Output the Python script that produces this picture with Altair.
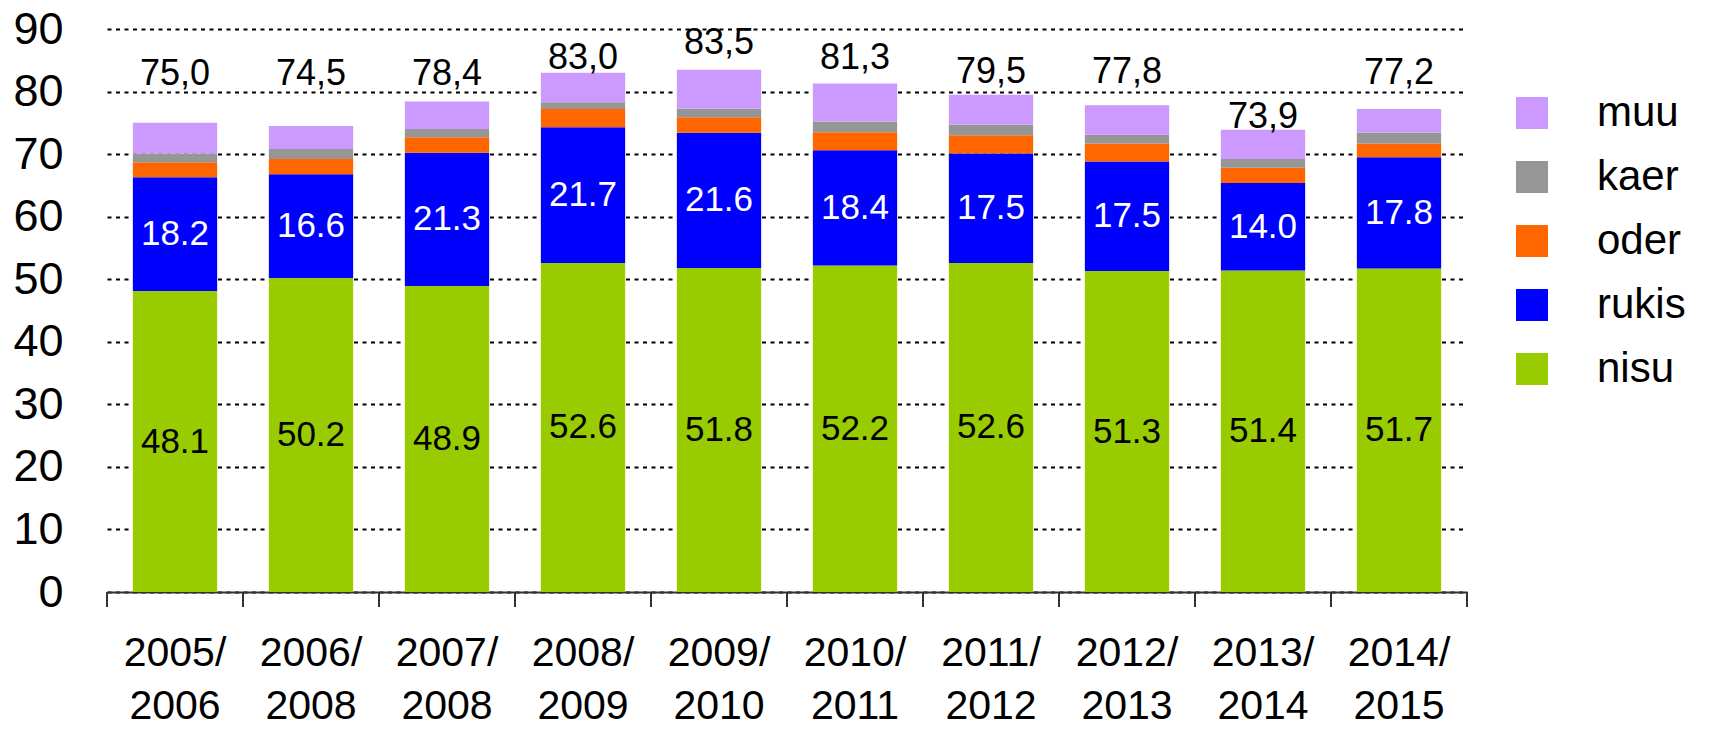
import altair as alt
import pandas as pd

years = ["2005/2006", "2006/2008", "2007/2008", "2008/2009", "2009/2010",
         "2010/2011", "2011/2012", "2012/2013", "2013/2014", "2014/2015"]
nisu = [48.1, 50.2, 48.9, 52.6, 51.8, 52.2, 52.6, 51.3, 51.4, 51.7]
rukis = [18.2, 16.6, 21.3, 21.7, 21.6, 18.4, 17.5, 17.5, 14.0, 17.8]
oder = [2.4, 2.4, 2.5, 2.9, 2.5, 2.9, 2.9, 2.9, 2.4, 2.2]
kaer = [1.4, 1.6, 1.3, 1.1, 1.4, 1.7, 1.7, 1.4, 1.4, 1.7]
muu = [4.9, 3.7, 4.4, 4.7, 6.2, 6.1, 4.8, 4.7, 4.7, 3.8]
totals = [75.0, 74.5, 78.4, 83.0, 83.5, 81.3, 79.5, 77.8, 73.9, 77.2]
total_label_y = [81.1, 81.1, 81.1, 83.6, 86.0, 83.6, 81.4, 81.4, 74.2, 81.2]

crops = ["nisu", "rukis", "oder", "kaer", "muu"]
series = {"nisu": nisu, "rukis": rukis, "oder": oder, "kaer": kaer, "muu": muu}
legend_order = ["muu", "kaer", "oder", "rukis", "nisu"]
colors = ["#CC99FF", "#969696", "#FF6600", "#0000FF", "#99CC00"]

rows = []
for i, y in enumerate(years):
    base = 0.0
    for k, c in enumerate(crops):
        v = series[c][i]
        rows.append({"year": y, "crop": c, "value": v, "start": base,
                     "end": base + v, "mid": base + v / 2, "order": k,
                     "label": f"{v:.1f}"})
        base += v
df = pd.DataFrame(rows)

tot = pd.DataFrame({"year": years, "total": totals, "ly": total_label_y,
                    "label": [f"{t:.1f}".replace(".", ",") for t in totals]})
yr = pd.DataFrame({"year": years})
last = pd.DataFrame({"year": years[-1:]})

FONT = "Liberation Sans"
H = 563

x_scale = alt.Scale(paddingInner=0.38, paddingOuter=0.19)
x_enc = alt.X("year:N", sort=years, title=None, scale=x_scale,
              axis=alt.Axis(labelAngle=0, labelFontSize=41, labelFont=FONT,
                            labelColor="black", labelLineHeight=53,
                            labelPadding=41, labelBaseline="top",
                            labelExpr="[substring(datum.label,0,5), substring(datum.label,5)]",
                            ticks=False, domainColor="#333333", domainWidth=2,
                            grid=False))

y_scale = alt.Scale(domain=[0, 90], nice=False)

bars = alt.Chart(df).mark_bar().encode(
    x=x_enc,
    y=alt.Y("start:Q", scale=y_scale, title=None,
            axis=alt.Axis(values=list(range(0, 100, 10)), labelFontSize=45,
                          labelFont=FONT, labelColor="black", labelPadding=44,
                          ticks=False, domain=False, grid=True,
                          gridColor="black", gridDash=[4, 4.5], gridWidth=2)),
    y2="end:Q",
    color=alt.Color("crop:N", scale=alt.Scale(domain=legend_order, range=colors),
                    legend=alt.Legend(title=None, orient="none", legendX=1404,
                                      legendY=63, symbolType="square",
                                      symbolSize=1024, symbolStrokeWidth=0,
                                      symbolOpacity=1, labelFontSize=42,
                                      labelFont=FONT, labelColor="black",
                                      labelOffset=44, rowPadding=22)),
)

inner = alt.Chart(df).transform_filter(
    "datum.crop == 'nisu' || datum.crop == 'rukis'"
).mark_text(font=FONT, fontSize=35, baseline="middle", align="center").encode(
    x=alt.X("year:N", sort=years),
    y=alt.Y("mid:Q", scale=y_scale),
    text="label:N",
    color=alt.condition(alt.datum.crop == "nisu", alt.value("black"), alt.value("white")),
)

totals_text = alt.Chart(tot).mark_text(font=FONT, fontSize=36, baseline="alphabetic",
                                       align="center", color="black").encode(
    x=alt.X("year:N", sort=years),
    y=alt.Y("ly:Q", scale=y_scale),
    text="label:N",
)

main = alt.layer(bars, inner, totals_text)

# category-boundary ticks on an unpadded band scale
tick_scale = alt.Scale(domain=years, paddingInner=0, paddingOuter=0)
ticks = alt.Chart(yr).mark_rule(color="#333333", strokeWidth=2).encode(
    x=alt.X("year:N", sort=years, bandPosition=0, scale=tick_scale, axis=None),
    y=alt.value(H),
    y2=alt.value(H + 15),
)
tick_end = alt.Chart(last).mark_rule(color="#333333", strokeWidth=2).encode(
    x=alt.X("year:N", sort=years, bandPosition=1, scale=tick_scale, axis=None),
    y=alt.value(H),
    y2=alt.value(H + 15),
)
tick_layer = alt.layer(ticks, tick_end)

chart = alt.layer(main, tick_layer).resolve_scale(x="independent").properties(
    width=1360, height=H,
    background="white",
    autosize=alt.AutoSizeParams(type="none"),
    padding={"left": 99, "top": 21, "right": 235, "bottom": 138},
).configure_view(stroke=None)

chart.save("out.html", embed_options={"renderer": "svg", "actions": False})
